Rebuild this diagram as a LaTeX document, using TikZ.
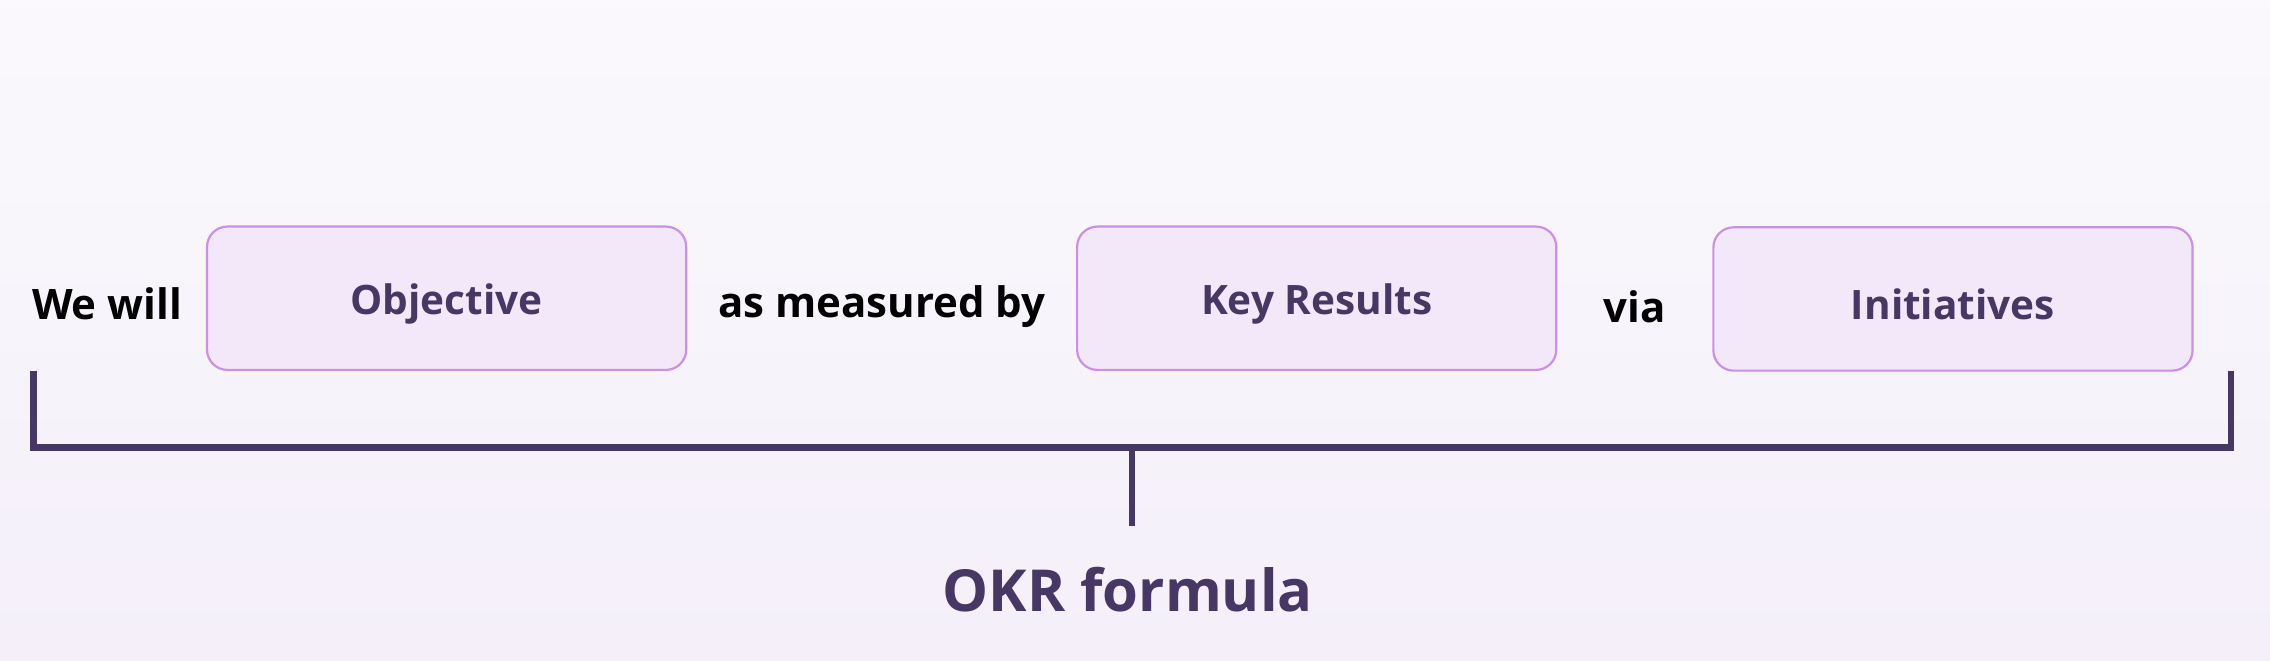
\documentclass[tikz,border=0pt]{standalone}
\usepackage{fontspec}
\setmainfont{Open Sans}
\definecolor{bg}{HTML}{F4EFF9}
\definecolor{boxfill}{HTML}{F3E8FA}
\definecolor{boxline}{HTML}{CB8FE8}
\definecolor{deep}{HTML}{463764}
\begin{document}
\begin{tikzpicture}[x=1pt,y=-1pt,
  okrbox/.style={draw=boxline,line width=1.5pt,fill=boxfill,rounded corners=14pt,minimum width=331pt,minimum height=99pt},
  boxtext/.style={text=deep,font=\fontsize{28}{34}\selectfont\bfseries,inner sep=0pt},
  plain/.style={text=black,font=\fontsize{29}{35}\selectfont\bfseries,inner sep=0pt},
  brk/.style={draw=deep,line width=4.5pt}]
\shade[top color=white!60!bg,bottom color=bg] (0,0) rectangle (1568,456);
\useasboundingbox (0,0) rectangle (1568,456);
\node[okrbox] (obj) at (308.5,206) {};
\node[okrbox] (kr) at (909.5,206) {};
\node[okrbox] (ini) at (1349,206.5) {};
\node[boxtext] (objt) at (308.5,210) {Objective};
\node[boxtext] (krt) at (909.5,210) {Key Results};
\node[boxtext] (init) at (1349,210) {Initiatives};
\node[plain,anchor=west] (we) at (22,210) {We will};
\node[plain] (meas) at (609,212) {as measured by};
\node[plain] (via) at (1129,212) {via};
\coordinate (bl) at (23,256);
\coordinate (br) at (1541,256);
\coordinate (stem) at (782,309);
\coordinate (stemend) at (782,363);
\draw[brk] (bl) -- (23,309) -- (1541,309) -- (br);
\draw[brk] (stem) -- (stemend);
\node[text=deep,font=\fontsize{40}{48}\selectfont\bfseries] (okr) at (779,407) {OKR formula};
\end{tikzpicture}
\end{document}
